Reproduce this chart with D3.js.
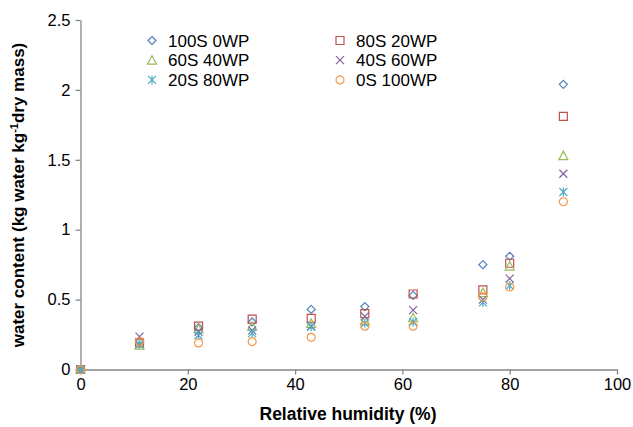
<!DOCTYPE html>
<html><head><meta charset="utf-8">
<script src="https://cdn.jsdelivr.net/npm/d3@7"></script>
<style>body{margin:0;background:#fff}</style>
</head><body>
<svg id="c" width="633" height="427"></svg>
<script>
const rh = [0, 11, 22, 32, 43, 53, 62, 75, 80, 90];
const s100S0WP  = [0, 0.20, 0.30, 0.34, 0.43, 0.45, 0.53, 0.75, 0.81, 2.04];
const s80S20WP  = [0, 0.19, 0.31, 0.36, 0.365, 0.40, 0.54, 0.57, 0.76, 1.81];
const s60S40WP  = [0, 0.175, 0.29, 0.31, 0.33, 0.35, 0.37, 0.55, 0.74, 1.53];
const s40S60WP  = [0, 0.235, 0.27, 0.28, 0.31, 0.38, 0.425, 0.50, 0.65, 1.40];
const s20S80WP  = [0, 0.18, 0.245, 0.26, 0.305, 0.33, 0.34, 0.48, 0.60, 1.27];
const s0S100WP  = [0, 0.20, 0.19, 0.20, 0.23, 0.31, 0.31, 0.52, 0.59, 1.20];
const seriesNames = ["100S 0WP","80S 20WP","60S 40WP","40S 60WP","20S 80WP","0S 100WP"];
const xTicks = [0,20,40,60,80,100];
const yTicks = [0,0.5,1,1.5,2,2.5];

const series = [
  {name:seriesNames[0], values:s100S0WP, color:"#4F81BD", shape:"diamond"},
  {name:seriesNames[1], values:s80S20WP, color:"#C0504D", shape:"square"},
  {name:seriesNames[2], values:s60S40WP, color:"#9BBB59", shape:"triangle"},
  {name:seriesNames[3], values:s40S60WP, color:"#8064A2", shape:"x"},
  {name:seriesNames[4], values:s20S80WP, color:"#4BACC6", shape:"star"},
  {name:seriesNames[5], values:s0S100WP, color:"#F79646", shape:"circle"}
];

const svg = d3.select("#c");
const x = d3.scaleLinear().domain([0,100]).range([80.5,617]);
const y = d3.scaleLinear().domain([0,2.5]).range([369.5,20]);
const axisColor = "#868686";
const font = "'Liberation Sans', Arial, sans-serif";

function shapePath(shape){
  const r = 4;
  switch(shape){
    case "diamond": return `M0,${-r}L${r},0L0,${r}L${-r},0Z`;
    case "square": return `M${-r},${-r}H${r}V${r}H${-r}Z`;
    case "triangle": return `M0,${-r-0.5}L${r+0.5},${r}L${-r-0.5},${r}Z`;
    case "x": return `M${-r},${-r}L${r},${r}M${-r},${r}L${r},${-r}`;
    case "star": return `M${-r},${-r}L${r},${r}M${-r},${r}L${r},${-r}M0,${-r-0.5}V${r+0.5}`;
    case "circle": return d3.symbol().type(d3.symbolCircle).size(Math.PI*r*r)();
  }
}

// axes
const xAxis = d3.axisBottom(x).tickValues(xTicks).tickSize(5).tickSizeOuter(0).tickPadding(4);
const gx = svg.append("g").attr("transform","translate(0,369.5)").call(xAxis);
const yAxis = d3.axisLeft(y).tickValues(yTicks).tickSize(5).tickSizeOuter(0).tickPadding(5).tickFormat(d3.format("~g"));
const gy = svg.append("g").attr("transform","translate(80.5,0)").call(yAxis);
[gx,gy].forEach(g=>{
  g.select(".domain").attr("stroke",axisColor).attr("stroke-width",1.3);
  g.selectAll(".tick line").attr("stroke",axisColor).attr("stroke-width",1.3);
  g.selectAll(".tick text").attr("fill","#000").style("font-family",font).style("font-size","16.5px");
});

// points
series.forEach(s=>{
  svg.append("g").selectAll("path").data(rh.map((r,i)=>[r,s.values[i]])).join("path")
    .attr("d", shapePath(s.shape))
    .attr("transform", d=>`translate(${x(d[0])},${y(d[1])})`)
    .attr("fill","none").attr("stroke",s.color).attr("stroke-width",1.2);
});

// legend
const leg = svg.append("g");
series.forEach((s,i)=>{
  const col = i%2, row = Math.floor(i/2);
  const lx = col===0 ? 152 : 340, ly = 40.5 + row*19.7;
  leg.append("path").attr("d",shapePath(s.shape)).attr("transform",`translate(${lx},${ly})`)
    .attr("fill","none").attr("stroke",s.color).attr("stroke-width",1.2);
  leg.append("text").attr("x",lx+16).attr("y",ly).attr("dy","0.36em")
    .style("font-family",font).style("font-size","17px").text(s.name);
});

// axis titles
svg.append("text").attr("x",348).attr("y",420).attr("text-anchor","middle")
  .style("font-family",font).style("font-size","17.5px").style("font-weight","bold")
  .text("Relative humidity (%)");
const yt = svg.append("text").attr("transform","translate(24,195) rotate(-90)").attr("text-anchor","middle")
  .style("font-family",font).style("font-size","17px").style("font-weight","bold");
yt.append("tspan").text("water  content (kg water kg");
yt.append("tspan").attr("dy","-6").style("font-size","11px").text("-1");
yt.append("tspan").attr("dy","6").text("dry mass)");
</script>
</body></html>
